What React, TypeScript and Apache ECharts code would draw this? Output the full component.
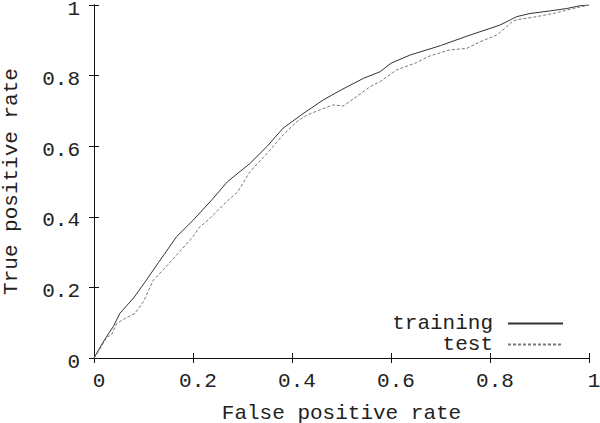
import React, { useEffect, useRef } from "react";
import * as echarts from "echarts";

const xTicks = [0, 0.2, 0.4, 0.6, 0.8, 1];
const yTicks = [0, 0.2, 0.4, 0.6, 0.8, 1];

const trainingFpr = [0, 0.01, 0.025, 0.039, 0.0525, 0.08, 0.106, 0.13, 0.167, 0.2, 0.238, 0.27, 0.315, 0.35, 0.382, 0.42, 0.463, 0.5, 0.544, 0.578, 0.6, 0.638, 0.7, 0.76, 0.82, 0.854, 0.881, 0.92, 0.955, 0.982, 1];
const trainingTpr = [0, 0.025, 0.06, 0.089, 0.127, 0.17, 0.221, 0.27, 0.344, 0.39, 0.448, 0.5, 0.551, 0.6, 0.651, 0.69, 0.731, 0.76, 0.792, 0.811, 0.835, 0.858, 0.885, 0.915, 0.943, 0.967, 0.976, 0.983, 0.99, 0.998, 1];

const testFpr = [0, 0.01, 0.026, 0.035, 0.046, 0.06, 0.083, 0.1, 0.12, 0.14, 0.167, 0.185, 0.2, 0.214, 0.23, 0.268, 0.29, 0.315, 0.35, 0.382, 0.41, 0.43, 0.46, 0.483, 0.504, 0.53, 0.558, 0.578, 0.611, 0.652, 0.675, 0.719, 0.753, 0.78, 0.814, 0.83, 0.845, 0.854, 0.894, 0.928, 0.968, 1];
const testTpr = [0, 0.02, 0.06, 0.065, 0.098, 0.11, 0.127, 0.16, 0.221, 0.25, 0.292, 0.32, 0.344, 0.372, 0.39, 0.443, 0.47, 0.528, 0.58, 0.632, 0.67, 0.688, 0.705, 0.717, 0.714, 0.74, 0.769, 0.783, 0.816, 0.837, 0.854, 0.873, 0.877, 0.896, 0.915, 0.934, 0.953, 0.958, 0.967, 0.976, 0.99, 1];

const FONT = "Liberation Mono";
const TXT = "#222";

export default function App() {
  const ref = useRef<HTMLDivElement>(null);
  useEffect(() => {
    if (!ref.current) return;
    const chart = echarts.init(ref.current, null, { renderer: "svg" });
    const axisCommon = {
      type: "value" as const,
      min: xTicks[0],
      max: xTicks[xTicks.length - 1],
      interval: 0.2,
      splitLine: { show: false },
      axisLine: { show: true, lineStyle: { color: "#111", width: 1 } },
      axisTick: { show: true, inside: true, length: 5, lineStyle: { color: "#111" } },
    };
    chart.setOption({
      animation: false,
      backgroundColor: "#fff",
      grid: { left: 94, right: 11, top: 5, bottom: 65, outerBoundsMode: "none", containLabel: false },
      legend: {
        orient: "vertical",
        right: 31,
        top: 308,
        align: "right",
        itemWidth: 55,
        itemHeight: 10,
        itemGap: 0,
        itemStyle: { opacity: 0 },
        textStyle: { fontFamily: FONT, fontSize: 21, color: TXT, lineHeight: 21, padding: [0, 10, 0, 0] },
        data: ["training", "test"],
      },
      xAxis: [
        {
          ...axisCommon,
          position: "bottom",
          name: "False positive rate",
          nameLocation: "middle",
          nameGap: 46,
          nameTextStyle: { fontFamily: FONT, fontSize: 21, color: TXT, lineHeight: 18 },
          axisLabel: { fontFamily: FONT, fontSize: 21, color: TXT, margin: 13, padding: [0, 0, 0, 10] },
        },
        { ...axisCommon, position: "top", axisLabel: { show: false } },
      ],
      yAxis: [
        {
          ...axisCommon,
          min: yTicks[0],
          max: yTicks[yTicks.length - 1],
          position: "left",
          name: "True positive rate",
          nameLocation: "middle",
          nameGap: 72,
          nameTextStyle: { fontFamily: FONT, fontSize: 21, color: TXT },
          axisLabel: { fontFamily: FONT, fontSize: 21, color: TXT, margin: 14, lineHeight: 8, verticalAlign: "top" },
        },
        { ...axisCommon, min: yTicks[0], max: yTicks[yTicks.length - 1], position: "right", axisLabel: { show: false } },
      ],
      series: [
        {
          name: "training",
          type: "line",
          xAxisIndex: 0,
          yAxisIndex: 0,
          symbol: "none",
          data: trainingFpr.map((x, i) => [x, trainingTpr[i]]),
          lineStyle: { color: "#333", width: 1 },
          itemStyle: { color: "#333" },
        },
        {
          name: "test",
          type: "line",
          xAxisIndex: 0,
          yAxisIndex: 0,
          symbol: "none",
          data: testFpr.map((x, i) => [x, testTpr[i]]),
          lineStyle: { color: "#777", width: 1, type: [3, 2] },
          itemStyle: { color: "#777" },
        },
      ],
    });
    return () => chart.dispose();
  }, []);
  return (
    <div
      ref={ref}
      style={{ position: "fixed", left: 0, top: 0, width: 600, height: 423, background: "#fff" }}
    />
  );
}
